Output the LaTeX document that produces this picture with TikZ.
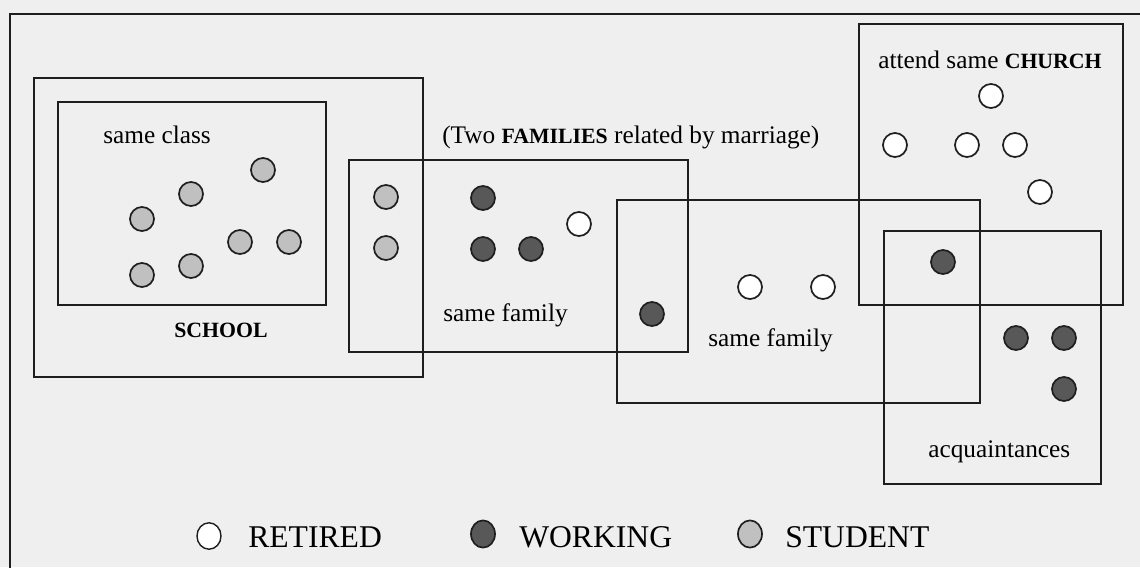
\documentclass[tikz,border=0pt]{standalone}
\usepackage{fontspec}
\setmainfont{Liberation Serif}
\usetikzlibrary{shapes.geometric}

\definecolor{paper}{RGB}{239,239,239}
\definecolor{ink}{RGB}{30,30,30}
\definecolor{workfill}{RGB}{88,88,88}
\definecolor{studfill}{RGB}{192,192,192}

\newcommand{\grpname}[1]{{\fontsize{15.5}{18}\selectfont\bfseries #1}}

\tikzset{
  box/.style={draw=ink, line width=1.4pt},
  dot/.style={circle, draw=ink, line width=1.2pt, minimum size=0.6cm, inner sep=0pt},
  retired/.style={dot, fill=white},
  working/.style={dot, fill=workfill},
  student/.style={dot, fill=studfill},
  tag/.style={font=\fontsize{18}{22}\selectfont, anchor=base west, inner sep=0pt},
  legendtext/.style={font=\fontsize{22.5}{27}\selectfont, anchor=base west, inner sep=0pt},
}

\begin{document}
\begin{tikzpicture}[x=0.025cm, y=-0.025cm]
  % Paper and frame
  \useasboundingbox (0,0) rectangle (1140,567);
  \fill[paper] (0,0) rectangle (1140,567);
  \clip (0,0) rectangle (1140,567);
  \draw[box, line width=1.7pt] (10,600) -- (10,14) -- (1160,14);

  % School and class
  \draw[box] (34,78) rectangle (423,377);
  \draw[box] (58,102) rectangle (326,305);
  \node[tag] (class) at (103,143) {same class};
  \node[tag] (school) at (174,337) {\grpname{SCHOOL}};

  % Two families
  \draw[box] (349,160) rectangle (688,352);
  \draw[box] (617,200) rectangle (980,403);
  \node[tag] (families) at (442,143) {(Two \grpname{FAMILIES} related by marriage)};
  \node[tag] (famA) at (443,321) {same family};
  \node[tag] (famB) at (708,346) {same family};

  % Church and acquaintances
  \draw[box] (859,24) rectangle (1123,305);
  \draw[box] (884,231) rectangle (1101,484);
  \node[tag] (church) at (878,68) {attend same \grpname{CHURCH}};
  \node[tag] (acq) at (928,457) {acquaintances};

  % Students in the class
  \node[student] (s1) at (263,170) {};
  \node[student] (s2) at (191,194) {};
  \node[student] (s3) at (142,219) {};
  \node[student] (s4) at (240,242) {};
  \node[student] (s5) at (289,242) {};
  \node[student] (s6) at (142,275) {};
  \node[student] (s7) at (191,266) {};

  % First family
  \node[student] (s8) at (386,197) {};
  \node[student] (s9) at (386,248) {};
  \node[working] (w1) at (483,198) {};
  \node[working] (w2) at (483,249) {};
  \node[working] (w3) at (531,249) {};
  \node[retired] (r1) at (579,224) {};
  \node[working] (w4) at (652,314) {};

  % Second family
  \node[retired] (r2) at (750,287) {};
  \node[retired] (r3) at (823,287) {};

  % Church members
  \node[retired] (r4) at (991,96) {};
  \node[retired] (r5) at (895,145) {};
  \node[retired] (r6) at (967,145) {};
  \node[retired] (r7) at (1015,145) {};
  \node[retired] (r8) at (1040,192) {};

  % Acquaintances
  \node[working] (w5) at (943,262) {};
  \node[working] (w6) at (1016,338) {};
  \node[working] (w7) at (1064,338) {};
  \node[working] (w8) at (1064,389) {};

  % Legend
  \node[retired, ellipse, line width=1pt, minimum width=0.6cm, minimum height=0.66cm] (kr) at (209,536) {};
  \node[legendtext] (kret) at (248,547) {RETIRED};
  \node[working, ellipse, minimum width=0.6cm, minimum height=0.68cm] (kw) at (483,534) {};
  \node[legendtext] (kwork) at (519,547) {WORKING};
  \node[student, ellipse, minimum width=0.6cm, minimum height=0.68cm] (ks) at (750,534) {};
  \node[legendtext] (kstud) at (785,547) {STUDENT};
\end{tikzpicture}
\end{document}
